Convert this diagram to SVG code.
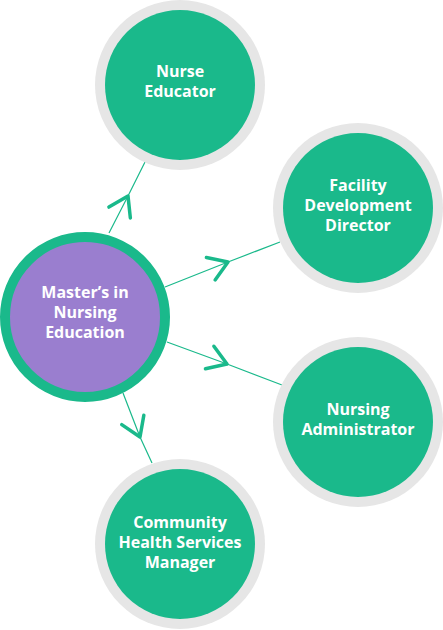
<svg xmlns="http://www.w3.org/2000/svg" width="443" height="630" viewBox="0 0 443 630">
<style>
.ring{fill:#e6e6e6}
.node{fill:#1ab98b}
.hub{fill:#9a7ecf;stroke:#1ab98b;stroke-width:10}
.lbl{fill:#ffffff;font-family:"Open Sans","Noto Sans","DejaVu Sans",sans-serif;font-weight:700;font-size:16px;text-anchor:middle}
.conn{fill:none;stroke:#1ab98b;stroke-width:1.2;marker-mid:url(#chev)}
</style>
<defs>
<marker id="chev" markerUnits="userSpaceOnUse" viewBox="-24 -16 28 32" refX="0" refY="0" markerWidth="28" markerHeight="32" orient="auto">
<path d="M -18.5 -12 L 0 0 L -18.5 12" fill="none" stroke="#1ab98b" stroke-width="3.5" stroke-linecap="round" stroke-linejoin="round"/>
</marker>
</defs>
<g id="connectors">
<polyline class="conn" points="109,233 128,196 145,162"/>
<polyline class="conn" points="165,287 228,262 280,242"/>
<polyline class="conn" points="167,342 227,364 282,385"/>
<polyline class="conn" points="123,393 140,437 152,463"/>
</g>
<g id="nurse-educator">
<circle class="ring" cx="180" cy="85" r="85"/>
<circle class="node" cx="180" cy="85" r="75"/>
<text class="lbl" x="180" y="77">Nurse</text>
<text class="lbl" x="180" y="97">Educator</text>
</g>
<g id="facility-director">
<circle class="ring" cx="358" cy="208" r="85"/>
<circle class="node" cx="358" cy="208" r="75"/>
<text class="lbl" x="358" y="191">Facility</text>
<text class="lbl" x="358" y="211">Development</text>
<text class="lbl" x="358" y="231">Director</text>
</g>
<g id="nursing-administrator">
<circle class="ring" cx="358" cy="422" r="85"/>
<circle class="node" cx="358" cy="422" r="75"/>
<text class="lbl" x="358" y="415">Nursing</text>
<text class="lbl" x="358" y="435">Administrator</text>
</g>
<g id="community-manager">
<circle class="ring" cx="180" cy="544" r="85"/>
<circle class="node" cx="180" cy="544" r="75"/>
<text class="lbl" x="180" y="528">Community</text>
<text class="lbl" x="180" y="548">Health Services</text>
<text class="lbl" x="180" y="568">Manager</text>
</g>
<g id="masters-nursing-education">
<circle class="hub" cx="85" cy="317" r="80"/>
<text class="lbl" x="85" y="298">Master’s in</text>
<text class="lbl" x="85" y="318">Nursing</text>
<text class="lbl" x="85" y="338">Education</text>
</g>
</svg>
